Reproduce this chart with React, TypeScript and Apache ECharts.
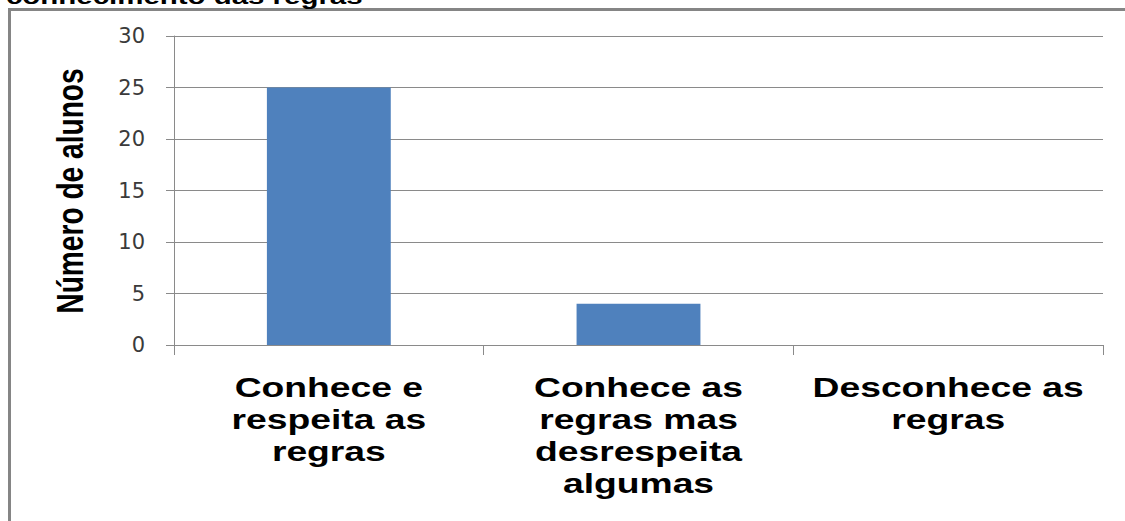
import React, { useEffect, useRef } from "react";
import * as echarts from "echarts";

const categories = [
  "Conhece e\nrespeita as\nregras",
  "Conhece as\nregras mas\ndesrespeita\nalgumas",
  "Desconhece as\nregras",
];
const values = [25, 4, 0];
const yTicks = { min: 0, max: 30, interval: 5 };
const titleText = "conhecimento das regras";
const yAxisTitle = "Número de alunos";

export default function App() {
  const ref = useRef<HTMLDivElement>(null);
  useEffect(() => {
    if (!ref.current) return;
    const chart = echarts.init(ref.current, null, { renderer: "svg" });
    chart.setOption({
      animation: false,
      backgroundColor: "#ffffff",
      grid: { left: 174, top: 36, right: 22, bottom: 176, containLabel: false },
      xAxis: {
        type: "category",
        data: categories,
        axisLine: { lineStyle: { color: "#8a8a8a", width: 1 } },
        axisTick: { show: true, length: 10, lineStyle: { color: "#8a8a8a" } },
        axisLabel: { show: false },
      },
      yAxis: {
        type: "value",
        min: yTicks.min,
        max: yTicks.max,
        interval: yTicks.interval,
        axisLine: { show: true, lineStyle: { color: "#8a8a8a", width: 1 } },
        axisTick: { show: true, length: 8, lineStyle: { color: "#8a8a8a" } },
        splitLine: { show: true, lineStyle: { color: "#8a8a8a", width: 1 } },
        axisLabel: {
          margin: 29,
          fontFamily: "DejaVu Sans, Verdana, sans-serif",
          fontSize: 21,
          color: "#3a3a3a",
        },
      },
      series: [
        {
          type: "bar",
          data: values,
          barWidth: "40%",
          itemStyle: { color: "#4f81bd" },
        },
      ],
    });

    // category labels, placed at the positions given by the x axis scale
    const catLabels = categories.map((c, i) => {
      const px = chart.convertToPixel({ xAxisIndex: 0 }, i) as number;
      return {
        type: "text",
        silent: true,
        x: px,
        y: 372,
        scaleX: 1.38,
        style: {
          text: c,
          font: "bold 27px 'Liberation Sans', Arial, sans-serif",
          lineHeight: 32,
          fill: "#000000",
          align: "center",
          verticalAlign: "top",
        },
      };
    });

    chart.setOption({
      graphic: [
        {
          type: "rect",
          silent: true,
          shape: { x: 9.5, y: 9.5, width: 1300, height: 700 },
          style: { fill: "none", stroke: "#858585", lineWidth: 3 },
        },
        {
          type: "text",
          silent: true,
          x: 6,
          y: -4,
          scaleX: 1.37,
          style: {
            text: titleText,
            font: "bold 21.5px 'Liberation Sans', Arial, sans-serif",
            fill: "#000000",
            align: "left",
            verticalAlign: "middle",
          },
        },
        {
          type: "text",
          silent: true,
          x: 70,
          y: 191,
          rotation: Math.PI / 2,
          scaleX: 0.76,
          style: {
            text: yAxisTitle,
            font: "bold 37px 'Liberation Sans', Arial, sans-serif",
            fill: "#000000",
            align: "center",
            verticalAlign: "middle",
          },
        },
        ...catLabels,
      ],
    });
    return () => chart.dispose();
  }, []);
  return (
    <div
      ref={ref}
      style={{ position: "fixed", left: 0, top: 0, width: 1125, height: 521 }}
    />
  );
}
